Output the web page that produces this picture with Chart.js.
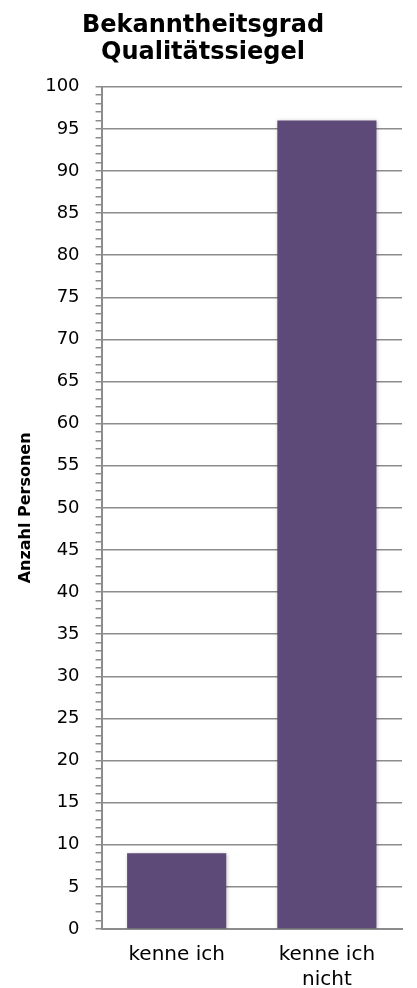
<!DOCTYPE html>
<html>
<head>
<meta charset="utf-8">
<script src="https://cdn.jsdelivr.net/npm/chart.js@4.4.1/dist/chart.umd.min.js"></script>
<style>
  html, body { margin: 0; padding: 0; background: #fff; }
  #wrap { width: 417px; height: 988px; position: relative; }
</style>
</head>
<body>
<div id="wrap"><canvas id="chart"></canvas></div>
<script>
const categories = ['kenne ich', ['kenne ich', 'nicht']];
const personCounts = [9, 96];
const yMin = 0;
const yMax = 100;
const majorStep = 5;

const gridGray = '#8c8c8c';
const fontFamily = 'DejaVu Sans';

// soft shadow around the bars
const barShadow = {
  id: 'barShadow',
  beforeDatasetsDraw(chart) {
    const ctx = chart.ctx;
    ctx.save();
    ctx.shadowColor = 'rgba(0,0,0,0.25)';
    ctx.shadowBlur = 4;
    ctx.shadowOffsetX = 1;
    ctx.shadowOffsetY = 1;
  },
  afterDatasetsDraw(chart) {
    chart.ctx.restore();
  }
};

const ctx = document.getElementById('chart').getContext('2d');
new Chart(ctx, {
  type: 'bar',
  data: {
    labels: categories,
    datasets: [{
      label: 'Anzahl Personen',
      data: personCounts,
      backgroundColor: '#5e4a78',
      borderWidth: 0,
      categoryPercentage: 1,
      barPercentage: 0.66
    }]
  },
  options: {
    responsive: true,
    maintainAspectRatio: false,
    animation: false,
    layout: { padding: { left: 4, right: 15, top: 2, bottom: 0 } },
    plugins: {
      legend: { display: false },
      tooltip: { enabled: false },
      title: {
        display: true,
        text: ['Bekanntheitsgrad', 'Qualitätssiegel'],
        color: '#000',
        font: { family: fontFamily, size: 24, weight: 'bold', lineHeight: 1.1 },
        padding: { top: 11, bottom: 21 }
      }
    },
    scales: {
      x: {
        grid: { display: false },
        border: { display: true, color: gridGray, width: 2 },
        ticks: {
          color: '#000',
          font: { family: fontFamily, size: 20, lineHeight: 1.25 },
          padding: 5,
          maxRotation: 0
        },
        // fixed band below the axis for the category labels
        afterFit(scale) {
          scale.height = 59;
        }
      },
      y: {
        min: yMin,
        max: yMax,
        border: { display: true, color: gridGray, width: 2 },
        grid: {
          color: c => (c.tick && c.tick.value % majorStep === 0) ? gridGray : 'transparent',
          tickColor: gridGray,
          tickLength: 6,
          lineWidth: 1.5
        },
        ticks: {
          stepSize: 1,
          autoSkip: false,
          color: '#000',
          font: { family: fontFamily, size: 18 },
          padding: 16,
          callback: v => (v % majorStep === 0 ? String(v) : '')
        },
        title: {
          display: true,
          text: 'Anzahl Personen',
          color: '#000',
          font: { family: fontFamily, size: 16, weight: 'bold' },
          padding: { top: 12, bottom: -6 }
        }
      }
    }
  },
  plugins: [barShadow]
});
</script>
</body>
</html>
